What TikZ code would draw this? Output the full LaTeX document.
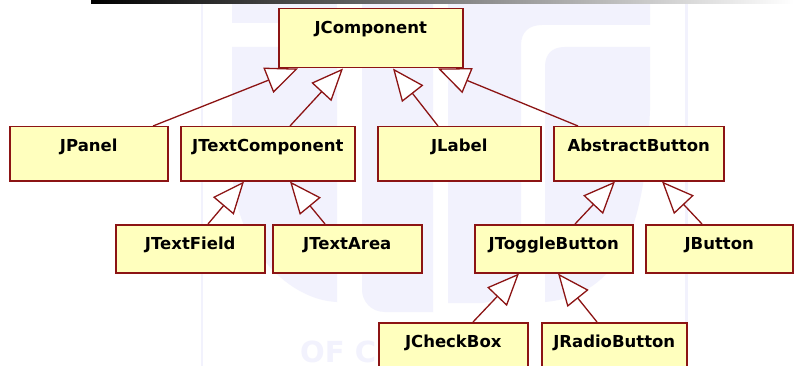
\documentclass[tikz,border=0pt]{standalone}
\usepackage{fontspec}
\setmainfont{DejaVu Sans}
\usetikzlibrary{arrows.meta}
\definecolor{umlred}{RGB}{140,20,20}
\definecolor{umlfill}{RGB}{255,255,190}
\definecolor{wm}{RGB}{242,242,253}
\tikzset{
  cls/.style={draw=umlred, fill=umlfill, line width=1.5pt, rectangle, anchor=north west,
    inner xsep=0pt, inner ysep=0pt, text height=25pt,
    font=\bfseries\fontsize{16.5}{18}\selectfont, text=black},
  gen/.style={draw=umlred, line width=1.3pt,
    -{Triangle[length=32pt,width=27pt,fill=white,line join=miter]}},
}
\begin{document}
\begin{tikzpicture}[x=1pt,y=-1pt]
\useasboundingbox (0,0) rectangle (794,366);
\clip (0,0) rectangle (794,366);
\fill[white] (0,0) rectangle (794,366);
% watermark
\fill[wm] (200.5,4) rectangle (203,366);
\fill[wm] (685,4) rectangle (688,322);
\fill[wm] (232,4) rectangle (337,23);
\fill[wm] (232,47) -- (232,170) .. controls (236,250) and (290,300) .. (337,302) -- (337,47) -- cycle;
\fill[wm] (362,4) -- (433,4) -- (433,312) -- (385,312) .. controls (370,312) and (362,300) .. (362,290) -- cycle;
\fill[wm] (448,4) -- (650,4) -- (650,25) -- (542,25) .. controls (529,25) and (521,32) .. (521,45) -- (521,250) .. controls (521,280) and (505,300) .. (483,303) -- (448,303) -- cycle;
\fill[wm] (545,67) .. controls (545,54) and (552,47) .. (565,47) -- (650,47) -- (650,110) .. controls (645,230) and (620,295) .. (545,302) -- cycle;
\node[anchor=base west, inner sep=0pt, text depth=0pt, text=wm, font=\bfseries\fontsize{29}{30}\selectfont] (wmtext) at (300,362) {OF C};
% top bar
\shade[left color=black, right color=white, middle color=black!50] (91,0) rectangle (794,3.5);
% classes
\node[cls, minimum width=184pt, text depth=34pt] (jcomp) at (278,8) {JComponent};
\node[cls, minimum width=158pt, text depth=29pt] (jpanel) at (9,126) {JPanel};
\node[cls, minimum width=174pt, text depth=29pt] (jtextcomp) at (180,126) {JTextComponent};
\node[cls, minimum width=163pt, text depth=29pt] (jlabel) at (377,126) {JLabel};
\node[cls, minimum width=170pt, text depth=29pt] (absbtn) at (553,126) {AbstractButton};
\node[cls, minimum width=149pt, text depth=23pt] (jtextfield) at (115,224) {JTextField};
\node[cls, minimum width=149pt, text depth=23pt] (jtextarea) at (272,224) {JTextArea};
\node[cls, minimum width=158pt, text depth=23pt] (jtoggle) at (474,224) {JToggleButton};
\node[cls, minimum width=147pt, text depth=23pt] (jbutton) at (645,224) {JButton};
\node[cls, minimum width=149pt, text depth=25pt] (jcheck) at (378,322) {JCheckBox};
\node[cls, minimum width=145pt, text depth=25pt] (jradio) at (541,322) {JRadioButton};
% generalizations
\draw[gen] ([xshift=144pt]jpanel.north west) -- ([xshift=20pt]jcomp.south west);
\draw[gen] ([xshift=110pt]jtextcomp.north west) -- ([xshift=65pt]jcomp.south west);
\draw[gen] ([xshift=61pt]jlabel.north west) -- ([xshift=115pt]jcomp.south west);
\draw[gen] ([xshift=25pt]absbtn.north west) -- ([xshift=160pt]jcomp.south west);
\draw[gen] ([xshift=93pt]jtextfield.north west) -- ([xshift=64pt]jtextcomp.south west);
\draw[gen] ([xshift=53pt]jtextarea.north west) -- ([xshift=110pt]jtextcomp.south west);
\draw[gen] ([xshift=101pt]jtoggle.north west) -- ([xshift=62pt]absbtn.south west);
\draw[gen] ([xshift=57pt]jbutton.north west) -- ([xshift=109pt]absbtn.south west);
\draw[gen] ([xshift=95pt]jcheck.north west) -- ([xshift=45pt]jtoggle.south west);
\draw[gen] ([xshift=56pt]jradio.north west) -- ([xshift=84pt]jtoggle.south west);
\end{tikzpicture}
\end{document}
